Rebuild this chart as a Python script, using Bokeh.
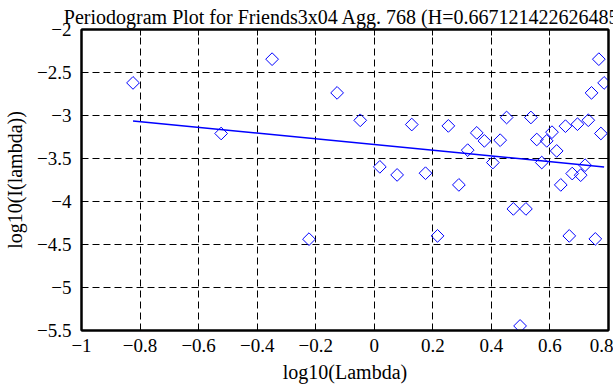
import numpy as np
from bokeh.plotting import figure
from bokeh.models import FixedTicker, LinearAxis, CustomJSTickFormatter
from bokeh.embed import file_html
from bokeh.resources import INLINE

title_text = "Periodogram Plot for Friends3x04 Agg. 768 (H=0.667121422626485)"
x_label = "log10(Lambda)"
y_label = "log10(I(lambda))"

x_ticks = [-1.0, -0.8, -0.6, -0.4, -0.2, 0.0, 0.2, 0.4, 0.6, 0.8]
y_ticks = [-5.5, -5.0, -4.5, -4.0, -3.5, -3.0, -2.5, -2.0]

log_lambda = [-0.824, -0.523, -0.349, -0.127, -0.223, -0.048, 0.128, 0.253, 0.350, 0.376,
              0.430, 0.452, 0.535, 0.319, 0.405, 0.555, 0.589, 0.607, 0.623, 0.653,
              0.694, 0.731, 0.774, 0.742, 0.785, 0.767, 0.572, 0.019, 0.078, 0.175,
              0.289, 0.676, 0.705, 0.720, 0.637, 0.475, 0.518, 0.216, 0.666, 0.755,
              0.498]
log_i = [-2.621, -3.209, -2.345, -2.737, -4.438, -3.056, -3.105, -3.121, -3.202, -3.295,
         -3.287, -3.023, -3.023, -3.403, -3.547, -3.279, -3.295, -3.194, -3.412, -3.124,
         -3.101, -3.055, -3.209, -2.737, -2.621, -2.345, -3.547, -3.597, -3.691, -3.671,
         -3.807, -3.675, -3.694, -3.578, -3.807, -4.086, -4.086, -4.400, -4.400, -4.435,
         -5.447]

fit_x = [-0.824, 0.785]
fit_y = [-3.063, -3.598]

SERIF = "Liberation Serif"

p = figure(width=613, height=385, x_range=(-1, 0.8), y_range=(-5.5, -2),
           output_backend="svg", toolbar_location=None,
           min_border_left=81, min_border_right=5, min_border_top=29, min_border_bottom=55)

p.title.text = title_text
p.title.text_font = SERIF
p.title.text_font_size = "20px"
p.title.text_font_style = "normal"
p.title.text_color = "black"
p.title.align = "center"
p.title.vertical_align = "top"
p.title.standoff = 0
p.title.offset = 0

fmt = CustomJSTickFormatter(code="""
var s = String(Math.round(tick*10)/10);
return s.replace('-', '\\u2212');
""")
blank = CustomJSTickFormatter(code="return '';")

for ax in (p.xaxis[0], p.yaxis[0]):
    ax.major_label_text_font = SERIF
    ax.major_label_text_font_size = "19px"
    ax.major_label_text_color = "black"
    ax.axis_label_text_font = SERIF
    ax.axis_label_text_font_size = "20px"
    ax.axis_label_text_font_style = "normal"
    ax.axis_label_text_color = "black"
    ax.major_tick_in = 6
    ax.major_tick_out = 0
    ax.minor_tick_line_color = None
    ax.axis_line_width = 2
    ax.major_tick_line_width = 1
    ax.formatter = fmt

p.xaxis[0].ticker = FixedTicker(ticks=x_ticks)
p.yaxis[0].ticker = FixedTicker(ticks=y_ticks)
p.xaxis[0].axis_label = x_label
p.yaxis[0].axis_label = y_label
p.xaxis[0].major_label_standoff = 8
p.xaxis[0].axis_label_standoff = 6
p.yaxis[0].major_label_standoff = 10
p.yaxis[0].axis_label_standoff = 8

top = LinearAxis(ticker=FixedTicker(ticks=x_ticks), formatter=blank,
                 major_tick_in=6, major_tick_out=0, minor_tick_line_color=None,
                 axis_line_width=2, major_label_standoff=9)
right = LinearAxis(ticker=FixedTicker(ticks=y_ticks), formatter=blank,
                   major_tick_in=6, major_tick_out=0, minor_tick_line_color=None,
                   axis_line_width=2, major_label_standoff=0)
p.add_layout(top, "above")
p.add_layout(right, "right")

p.xgrid.ticker = FixedTicker(ticks=x_ticks)
p.ygrid.ticker = FixedTicker(ticks=y_ticks)
for g in (p.xgrid[0], p.ygrid[0]):
    g.grid_line_color = "black"
    g.grid_line_dash = "7 4"
    g.grid_line_width = 1
    g.grid_line_alpha = 1.0

p.outline_line_color = "black"
p.outline_line_width = 2

p.line(fit_x, fit_y, line_color="blue", line_width=1.5)
p.scatter(log_lambda, log_i, marker="square", angle=np.pi / 4, size=9,
          fill_color=None, line_color="blue", line_width=1)

open("out.html", "w").write(file_html(p, INLINE))
